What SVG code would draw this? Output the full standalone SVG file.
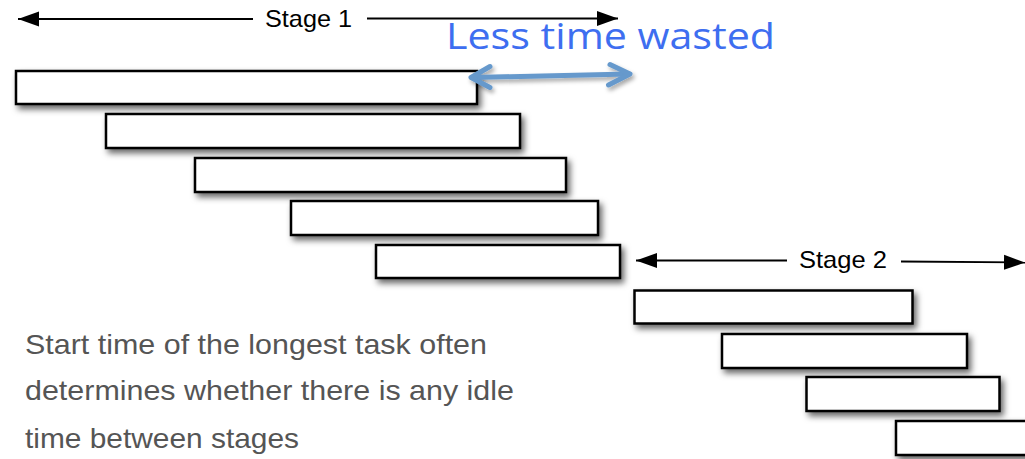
<svg xmlns="http://www.w3.org/2000/svg" width="1025" height="459" viewBox="0 0 1025 459">
  <defs>
    <filter id="shadow" x="-10%" y="-40%" width="130%" height="200%">
      <feDropShadow dx="3" dy="4" stdDeviation="3" flood-color="#000" flood-opacity="0.6"/>
    </filter>
    <filter id="softShadow" x="-10%" y="-60%" width="130%" height="250%">
      <feDropShadow dx="2" dy="3" stdDeviation="2" flood-color="#000" flood-opacity="0.35"/>
    </filter>
    <marker id="headStart" markerUnits="userSpaceOnUse" markerWidth="22" markerHeight="16" refX="0" refY="8" orient="auto">
      <path d="M0,8 L21,0.5 L21,15.5 Z" fill="#000"/>
    </marker>
    <marker id="headEnd" markerUnits="userSpaceOnUse" markerWidth="22" markerHeight="16" refX="21" refY="8" orient="auto">
      <path d="M21,8 L0,0.5 L0,15.5 Z" fill="#000"/>
    </marker>
  </defs>
  <style>
    .bar { fill: #fff; stroke: #000; stroke-width: 2.5; filter: url(#shadow); }
    .dim { stroke: #000; stroke-width: 1.8; fill: none; }
    .stage { font-family: "Liberation Sans", Arial, sans-serif; font-size: 24px; fill: #000; }
    .note { font-family: "Liberation Sans", Arial, sans-serif; font-size: 28px; fill: #555; }
    .gap { stroke: #6699cc; stroke-width: 5; fill: none; stroke-linecap: round; stroke-linejoin: round; }
  </style>

  <rect width="1025" height="459" fill="#fff"/>

  <!-- stage 1 tasks -->
  <g id="task1"><rect class="bar" x="16" y="71" width="461" height="33"/></g>
  <g id="task2"><rect class="bar" x="106" y="114" width="414" height="34"/></g>
  <g id="task3"><rect class="bar" x="195" y="158" width="371" height="34"/></g>
  <g id="task4"><rect class="bar" x="291" y="201" width="307" height="34"/></g>
  <g id="task5"><rect class="bar" x="376" y="245" width="244" height="33"/></g>

  <!-- stage 2 tasks -->
  <g id="task6"><rect class="bar" x="634.5" y="290.5" width="278" height="33"/></g>
  <g id="task7"><rect class="bar" x="722" y="334" width="245" height="34"/></g>
  <g id="task8"><rect class="bar" x="806.5" y="377" width="193" height="34"/></g>
  <g id="task9"><rect class="bar" x="896" y="421" width="140" height="34"/></g>

  <!-- dimension arrows -->
  <g id="connectors">
    <line class="dim" x1="18" y1="19" x2="253" y2="19" marker-start="url(#headStart)"/>
    <line class="dim" x1="367" y1="18.5" x2="618" y2="18.5" marker-end="url(#headEnd)"/>
    <line class="dim" x1="636" y1="260.5" x2="787" y2="260.5" marker-start="url(#headStart)"/>
    <line class="dim" x1="901" y1="261.5" x2="1025" y2="262.5" marker-end="url(#headEnd)"/>
    <g filter="url(#softShadow)">
      <path class="gap" d="M472,77.5 L629,74"/>
      <path class="gap" d="M490,66.5 L471,77.5 L490,87.5"/>
      <path class="gap" d="M610,64.5 L630,74 L608.5,85"/>
    </g>
  </g>

  <!-- labels -->
  <g id="stage1Label"><text class="stage" x="265" y="27" textLength="87" lengthAdjust="spacingAndGlyphs">Stage 1</text></g>
  <g id="stage2Label"><text class="stage" x="799" y="268" textLength="88" lengthAdjust="spacingAndGlyphs">Stage 2</text></g>
  <g id="gapLabel"><text x="446" y="48.5" font-family="'Open Sans', 'Noto Sans', sans-serif" font-size="37" fill="#3e6ef0" textLength="329" lengthAdjust="spacingAndGlyphs">Less time wasted</text></g>

  <g id="note">
    <text class="note" x="25" y="353.5" textLength="462" lengthAdjust="spacingAndGlyphs">Start time of the longest task often</text>
    <text class="note" x="25" y="400" textLength="489" lengthAdjust="spacingAndGlyphs">determines whether there is any idle</text>
    <text class="note" x="25" y="447.5" textLength="274" lengthAdjust="spacingAndGlyphs">time between stages</text>
  </g>
</svg>
